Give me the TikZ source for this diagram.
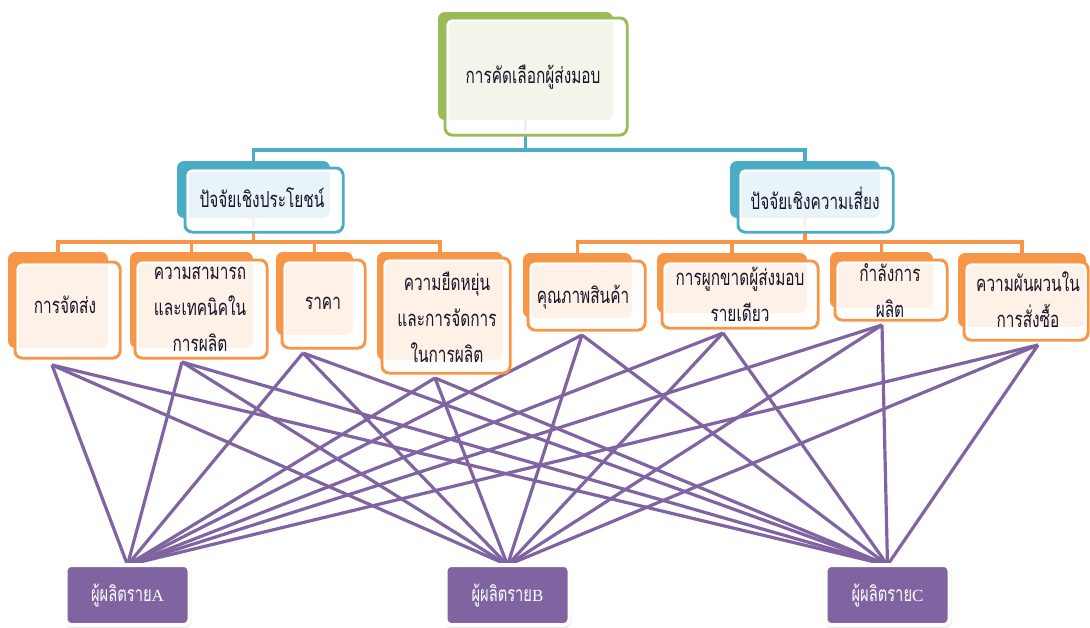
\documentclass[tikz,border=0pt]{standalone}
\usepackage{fontspec}
\setmainfont{Liberation Serif}
\newfontfamily\thai[Script=Thai,FakeStretch=0.7]{Loma}
\usetikzlibrary{calc,shadows,shadows.blur}
\definecolor{grn}{HTML}{9BBB59}
\definecolor{blu}{HTML}{4BACC6}
\definecolor{orn}{HTML}{F79646}
\definecolor{pur}{HTML}{8064A2}
\definecolor{ink}{HTML}{16162A}
\pgfdeclarelayer{bg}
\pgfsetlayers{bg,main}

% back plate + front card; #1 id, #2 colour, #3 back centre, #4/#5 back size, #6 front centre, #7/#8 front size
\newcommand{\pairbox}[8]{%
  \node[backbox=#2, minimum width=#4pt, minimum height=#5pt] (#1b) at (#3) {};
  \node[frontbox=#2, minimum width=#7pt, minimum height=#8pt] (#1f) at (#6) {};
  \draw[whiteedge] ([shift={(2.6,2.6)}]#1f.north west) rectangle ([shift={(-2.6,-2.6)}]#1f.south east);
}

\begin{document}
\begin{tikzpicture}[x=1pt,y=-1pt,
  backbox/.style={fill=#1, rounded corners=7pt, inner sep=0pt, outer sep=0pt},
  frontbox/.style={draw=#1, line width=3pt, fill=white, fill opacity=0.88,
                   rounded corners=7pt, inner sep=0pt, outer sep=0pt},
  whiteedge/.style={draw=white, line width=2.2pt, rounded corners=5pt},
  lbl/.style={inner sep=0pt, align=center, text=ink, font=\thai\fontsize{22}{36}\selectfont},
  bluecon/.style={draw=blu, line width=3.6pt},
  orncon/.style={draw=orn, line width=3.4pt},
  link/.style={draw=pur, line width=3.2pt},
  maker/.style={fill=pur, draw=white, line width=4pt, rounded corners=6pt,
                minimum width=124pt, minimum height=60pt, inner sep=0pt, outer sep=0pt,
                text=white, font=\thai\fontsize{21}{22}\selectfont,
                blur shadow={shadow blur steps=6, shadow xshift=0.5pt, shadow yshift=-1.2pt,
                             shadow opacity=45, shadow blur radius=2.5pt}}]
\useasboundingbox (0,0) rectangle (1090,627);

% top level
\pairbox{top}{grn}{525.5,66}{175}{108}{536,76.5}{182}{117}
\node[lbl] (ttop) at (533,77) {การคัดเลือกผู้ส่งมอบ};

% factor groups
\pairbox{ben}{blu}{253.5,189.5}{153}{57}{264,200}{158}{64}
\node[lbl] (tben) at (262,198) {ปัจจัยเชิงประโยชน์};
\pairbox{rsk}{blu}{805,189.5}{150}{57}{815.5,200}{155}{64}
\node[lbl] (trsk) at (815,198) {ปัจจัยเชิงความเสี่ยง};

% criteria
\pairbox{oa}{orn}{58,300}{100}{96}{67.5,310}{105}{96}
\node[lbl] (toa) at (65,305) {การจัดส่ง};
\pairbox{ob}{orn}{191.5,300}{123}{96}{201,309}{132}{98}
\node[lbl] (tob) at (200,309.5) {ความสามารถ\\และเทคนิคใน\\การผลิต};
\pairbox{oc}{orn}{314.5,293.5}{77}{83}{323.5,304}{83}{88}
\node[lbl] (toc) at (323,303) {ราคา};
\pairbox{od}{orn}{440,306}{126}{108}{446,315.5}{128}{115}
\node[lbl] (tod) at (447,317) {ความยืดหยุ่น\\และการจัดการ\\ในการผลิต};
\pairbox{oe}{orn}{577.5,285.5}{109}{65}{586.5,295.5}{117}{69}
\node[lbl] (toe) at (583,297) {คุณภาพสินค้า};
\pairbox{of}{orn}{732,283}{150}{60}{740,294.5}{156}{67}
\node[lbl] (tof) at (740,294.5) {การผูกขาดผู้ส่งมอบ\\รายเดียว};
\pairbox{og}{orn}{881.5,280}{103}{56}{891,290}{112}{60}
\node[lbl] (tog) at (890,290.5) {กำลังการ\\ผลิต};
\pairbox{oh}{orn}{1022,290}{128}{74}{1026,301}{124}{78}
\node[lbl] (toh) at (1028,300) {ความผันผวนใน\\การสั่งซื้อ};

% producers
\node[maker] (pa) at (127.5,595) {ผู้ผลิตราย{\rmfamily\fontsize{17}{20}\selectfont A}};
\node[maker] (pb) at (507.5,595) {ผู้ผลิตราย{\rmfamily\fontsize{17}{20}\selectfont B}};
\node[maker] (pc) at (887.5,595) {ผู้ผลิตราย{\rmfamily\fontsize{17}{20}\selectfont C}};

% link origins under the criteria cards
\coordinate (sa) at (52,365);
\coordinate (sb) at (182,362);
\coordinate (sc) at (303,353);
\coordinate (sd) at (435,378);
\coordinate (se) at (582,335);
\coordinate (sf) at (723,333);
\coordinate (sg) at (882,325);
\coordinate (sh) at (1038,345);

\begin{pgfonlayer}{bg}
  % tree connectors
  \coordinate (tj) at ($(topb.south)+(0,30)$);
  \draw[bluecon] (topb.south) -- (tj) -| (benb.north);
  \draw[bluecon] (tj) -| (rskb.north);
  \coordinate (bj) at ($(benb.south)+(0,24)$);
  \coordinate (rj) at ($(rskb.south)+(0,24)$);
  \foreach \n in {oa,ob,oc,od} \draw[orncon] (benb.south) -- (bj) -| (\n b.north);
  \foreach \n in {oe,of,og,oh} \draw[orncon] (rskb.south) -- (rj) -| (\n b.north);
  % every criterion to every producer
  \foreach \s in {sa,sb,sc,sd,se,sf,sg,sh}
    \foreach \p in {pa,pb,pc}
      \draw[link] (\s) -- (\p.north);
\end{pgfonlayer}
\end{tikzpicture}
\end{document}
